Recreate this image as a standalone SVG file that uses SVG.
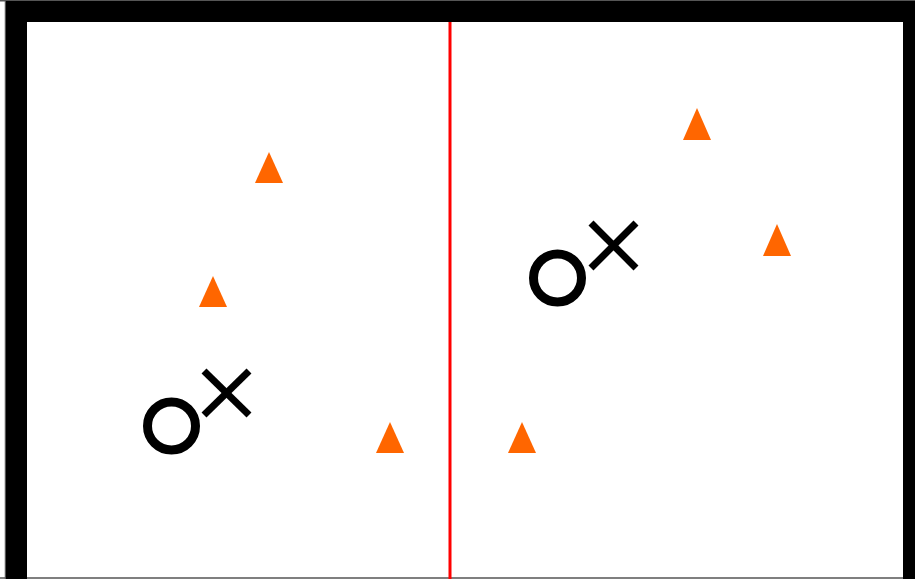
<svg xmlns="http://www.w3.org/2000/svg" width="915" height="579" viewBox="0 0 915 579">
  <style>
    .frame { fill: none; stroke: #000; stroke-width: 21; }
    .edge { fill: none; stroke: #555; stroke-width: 1.5; }
    .divider { stroke: #ff0000; stroke-width: 3; }
    .tri { fill: #ff6600; }
    .ring { fill: none; stroke: #000; stroke-width: 9; }
    .cross { stroke: #000; stroke-width: 7; stroke-linecap: butt; }
  </style>
  <rect x="0" y="0" width="915" height="579" fill="#fff"/>
  <g id="frame">
    <line class="edge" x1="5.5" y1="0" x2="5.5" y2="579"/>
    <line class="edge" x1="0" y1="0.75" x2="915" y2="0.75"/>
    <line class="edge" x1="0" y1="578" x2="915" y2="578"/>
    <rect class="frame" x="16.5" y="11.5" width="897" height="620"/>
  </g>
  <g id="divider">
    <line class="divider" x1="450" y1="22" x2="450" y2="579"/>
  </g>
  <g id="left-cones">
    <polygon class="tri" points="269,152 255,183 283,183"/>
    <polygon class="tri" points="213,276 199,307 227,307"/>
    <polygon class="tri" points="390,422 376,453 404,453"/>
  </g>
  <g id="right-cones">
    <polygon class="tri" points="697,108 683,140 711,140"/>
    <polygon class="tri" points="777,224 763,256 791,256"/>
    <polygon class="tri" points="522,422 508,453 536,453"/>
  </g>
  <g id="left-player">
    <circle class="ring" cx="171.5" cy="426" r="24"/>
    <line class="cross" x1="204" y1="371" x2="249" y2="415"/>
    <line class="cross" x1="249" y1="371" x2="204" y2="415"/>
  </g>
  <g id="right-player">
    <circle class="ring" cx="557.5" cy="278" r="24"/>
    <line class="cross" x1="591" y1="223" x2="636" y2="268"/>
    <line class="cross" x1="636" y1="223" x2="591" y2="268"/>
  </g>
</svg>
